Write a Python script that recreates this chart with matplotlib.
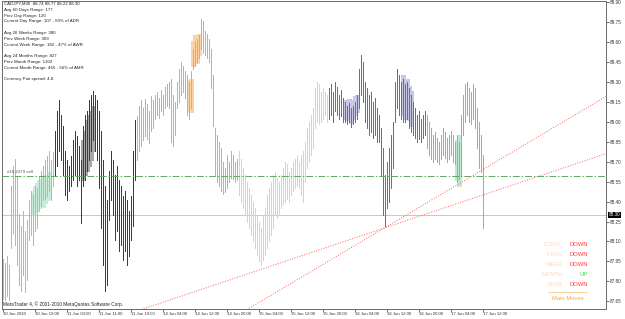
import matplotlib
matplotlib.use("Agg")
import matplotlib.pyplot as plt
from matplotlib.transforms import blended_transform_factory

W, H = 625, 319

# M30 bars, high / low
highs = [
    87.97, 87.94, 87.99, 87.92, 88.52, 88.67, 88.72, 88.59, 88.31, 88.22,
    88.33, 88.18, 88.26, 88.41, 88.48, 88.45, 88.52, 88.50, 88.59, 88.63,
    88.67, 88.71, 88.74, 88.78, 88.71, 88.77, 88.93, 89.08, 89.16, 89.05,
    88.97, 88.78, 88.71, 88.67, 88.74, 88.86, 88.93, 88.89, 88.82, 88.71,
    88.97, 89.05, 89.08, 89.16, 89.20, 89.23, 89.20, 89.16, 89.08, 88.93,
    88.71, 88.52, 88.41, 88.63, 88.78, 88.71, 88.60, 88.67, 88.56, 88.52,
    88.44, 88.48, 88.41, 88.33, 88.44, 88.78, 89.01, 89.04, 89.12, 89.16,
    89.10, 89.17, 89.13, 89.08, 89.19, 89.16, 89.20, 89.22, 89.18, 89.24,
    89.20, 89.26, 89.28, 89.30, 89.32, 89.20, 89.15, 89.30, 89.40, 89.45,
    89.42, 89.38, 89.35, 89.30, 89.38, 89.55, 89.60, 89.62, 89.65, 89.77,
    89.76, 89.68, 89.66, 89.62, 89.55, 89.35, 88.95, 88.90, 88.85, 88.80,
    88.70, 88.65, 88.75, 88.70, 88.78, 88.75, 88.70, 88.72, 88.78, 88.72,
    88.65, 88.60, 88.55, 88.50, 88.45, 88.40, 88.35, 88.30, 88.25, 88.20,
    88.30, 88.35, 88.45, 88.50, 88.55, 88.60, 88.62, 88.58, 88.55, 88.60,
    88.65, 88.70, 88.68, 88.62, 88.65, 88.70, 88.72, 88.75, 88.70, 88.75,
    88.78, 88.85, 88.95, 89.00, 89.05, 89.10, 89.25, 89.30, 89.28, 89.22,
    89.25, 89.22, 89.20, 89.25, 89.28, 89.22, 89.30, 89.26, 89.20, 89.24,
    89.18, 89.15, 89.12, 89.14, 89.10, 89.12, 89.15, 89.20, 89.40, 89.50,
    89.45, 89.30, 89.25, 89.20, 89.22, 89.15, 89.18, 89.10, 89.05, 88.95,
    88.80, 88.60, 88.70, 88.80, 88.90, 89.00, 89.30, 89.40, 89.35, 89.30,
    89.32, 89.28, 89.30, 89.25, 89.20, 89.15, 89.10, 89.05, 89.08, 89.02,
    89.05, 89.08, 89.05, 89.00, 88.95, 88.90, 88.92, 88.88, 88.85, 88.90,
    88.95, 88.92, 88.88, 88.90, 88.93, 88.90, 88.85, 88.90, 88.85, 89.05,
    89.20, 89.28, 89.30, 89.25, 89.22, 89.28, 89.25, 89.10, 89.00, 88.90,
    88.75,
]
lows = [
    87.67, 87.66, 87.69, 87.66, 88.05, 88.16, 88.07, 87.92, 87.77, 87.73,
    87.85, 87.72, 87.81, 88.11, 88.15, 88.07, 88.18, 88.20, 88.33, 88.37,
    88.41, 88.42, 88.44, 88.48, 88.41, 88.52, 88.60, 88.67, 88.78, 88.71,
    88.60, 88.45, 88.41, 88.48, 88.52, 88.56, 88.60, 88.52, 88.56, 88.24,
    88.52, 88.56, 88.63, 88.71, 88.78, 88.86, 88.78, 88.71, 88.50, 88.20,
    87.92, 87.73, 87.77, 88.26, 88.41, 88.30, 88.11, 88.18, 88.03, 88.07,
    87.96, 88.03, 87.92, 87.99, 88.11, 88.22, 88.56, 88.71, 88.78, 88.82,
    88.86, 88.89, 88.87, 88.84, 88.93, 88.95, 89.02, 89.05, 89.03, 89.08,
    89.05, 89.10, 89.12, 89.10, 88.85, 88.82, 88.90, 89.10, 89.15, 89.20,
    89.22, 89.18, 89.05, 89.02, 89.10, 89.40, 89.42, 89.45, 89.48, 89.55,
    89.52, 89.50, 89.48, 89.45, 89.25, 88.97, 88.60, 88.55, 88.52, 88.48,
    88.46, 88.47, 88.50, 88.55, 88.58, 88.57, 88.55, 88.56, 88.45, 88.40,
    88.35, 88.30, 88.25, 88.20, 88.15, 88.10, 88.05, 88.00, 87.95, 87.92,
    87.96, 88.00, 88.05, 88.10, 88.15, 88.20, 88.30, 88.28, 88.30, 88.35,
    88.38, 88.40, 88.42, 88.40, 88.45, 88.48, 88.50, 88.52, 88.50, 88.45,
    88.40, 88.55, 88.65, 88.70, 88.75, 88.80, 88.95, 89.00, 88.98, 89.00,
    89.02, 89.05, 89.00, 89.02, 89.05, 89.00, 89.08, 89.05, 89.02, 89.04,
    89.00, 89.00, 88.98, 89.00, 88.96, 88.98, 89.00, 89.02, 89.10, 89.20,
    89.15, 89.00, 88.95, 88.90, 88.92, 88.88, 88.90, 88.85, 88.85, 88.60,
    88.30, 88.22, 88.35, 88.40, 88.50, 88.65, 89.00, 89.10, 89.05, 89.02,
    89.00, 89.00, 89.02, 88.95, 88.92, 88.90, 88.88, 88.85, 88.87, 88.85,
    88.88, 88.90, 88.80, 88.75, 88.72, 88.70, 88.72, 88.70, 88.68, 88.72,
    88.75, 88.73, 88.70, 88.72, 88.75, 88.70, 88.68, 88.55, 88.57, 88.60,
    88.90, 89.00, 89.05, 89.00, 88.98, 89.02, 88.95, 88.80, 88.65, 88.62,
    88.20,
]

# lighter open/close bodies painted behind some bars
body_bars = [15, 16, 17, 18, 19, 20, 21, 22, 23,
             40, 41, 42, 43, 44, 45,
             93, 94, 95, 96, 97, 98,
             171, 172, 173, 174, 175, 176, 177,
             200, 201, 202, 203, 204,
             227, 228]
body_tops = [88.48, 88.52, 88.54, 88.56, 88.57, 88.59, 88.60, 88.57, 88.62,
             88.86, 88.93, 89.01, 89.05, 89.08, 89.12,
             89.31, 89.32, 89.61, 89.65, 89.62, 89.66,
             89.16, 89.14, 89.17, 89.13, 89.16, 89.19, 89.20,
             89.35, 89.31, 89.32, 89.27, 89.23,
             88.86, 88.90]
body_bottoms = [88.30, 88.32, 88.33, 88.35, 88.37, 88.36, 88.39, 88.41, 88.42,
                88.56, 88.60, 88.63, 88.67, 88.71, 88.78,
                89.08, 89.07, 89.42, 89.46, 89.44, 89.50,
                89.02, 89.01, 89.04, 88.99, 89.02, 89.05, 89.07,
                89.05, 89.02, 89.07, 89.01, 88.97,
                88.56, 88.52]

# bar colour changes (first bar of each run)
seg_starts = [0, 26, 67, 118, 163, 212]
seg_colors = ["#86d3a6", "#3c3c3c", "#f7a54a", "#d2d2da", "#6a68b2", "#66cb94"]
body_colors = ["#c8ecd7", "#a8a8a8", "#fbd3a6", "#e8e8ec", "#c9c7e6", "#c0e9d2"]

tick_bars = list(range(0, 241, 16))
tick_labels = [
    "10 Jun 2010", "10 Jun 19:00", "11 Jun 03:00", "11 Jun 11:00",
    "11 Jun 19:00", "14 Jun 04:00", "14 Jun 12:00", "14 Jun 20:00",
    "15 Jun 04:00", "15 Jun 12:00", "15 Jun 20:00", "16 Jun 04:00",
    "16 Jun 12:00", "16 Jun 20:00", "17 Jun 04:00", "17 Jun 12:00",
]
price_ticks = [89.90, 89.75, 89.60, 89.45, 89.30, 89.15, 89.00, 88.85,
               88.70, 88.55, 88.40, 88.25, 88.10, 87.95, 87.80, 87.65]

bid = 88.30
order_price = 88.595
order_label = "#10.2379 sell"
# trendlines: (bar, price) anchors
trend_a_bars, trend_a_prices = [0, 301.5], [87.24, 88.76]
trend_b_bars, trend_b_prices = [0, 301.5], [86.50, 89.19]

info_lines = [
    "CADJPY,M30  88.74 88.77 88.22 88.30",
    "Avg 60 Days Range: 177",
    "Prev Day Range: 120",
    "Current Day Range: 107 - 60% of ADR",
    "",
    "Avg 26 Weeks Range: 380",
    "Prev Week Range: 309",
    "Current Week Range: 182 - 47% of AWR",
    "",
    "Avg 24 Months Range: 827",
    "Prev Month Range: 1302",
    "Current Month Range: 465 - 56% of AMR",
    "",
    "Currency Pair spread: 4.8",
]
move_names = ["TODAY", "Y-DAY", "WEEK", "MONTH", "YEAR"]
move_dirs = ["DOWN", "DOWN", "DOWN", "UP", "DOWN"]

FONT = "Liberation Sans"


def fpx(x, y):
    """pixel position -> figure fraction"""
    return x / W, 1 - y / H


def seg_of(i):
    return max(j for j, s in enumerate(seg_starts) if s <= i)


fig = plt.figure(figsize=(W / 100, H / 100), dpi=100)
fig.patch.set_facecolor("white")
ax = fig.add_axes([2 / W, 1 - 309 / H, 604 / W, 308 / H])
ax.set_xlim(-0.5, 301.5)
ax.set_ylim(87.5925, 89.9075)

# bodies, then bars on top (no antialiasing: crisp 1px bars like the terminal)
ax.vlines(body_bars, body_bottoms, body_tops,
          colors=[body_colors[seg_of(i)] for i in body_bars], lw=2.2,
          antialiased=False, zorder=1)
ax.vlines(range(len(highs)), lows, highs,
          colors=[seg_colors[seg_of(i)] for i in range(len(highs))],
          lw=0.72, antialiased=False, zorder=2)

# bid line, order line, trendlines
ax.axhline(bid, color="#c8c8c8", lw=0.7, zorder=0)
ax.axhline(order_price, color="#5fa862", lw=0.7, ls=(0, (7, 2, 1.5, 2)), zorder=3)
ax.text(2, order_price + 0.01, order_label, fontsize=3.2, family=FONT,
        color="#555555", va="bottom")
for bx, by in ((trend_a_bars, trend_a_prices), (trend_b_bars, trend_b_prices)):
    ax.plot(bx, by, color="#ff5f5f", lw=0.7, ls=(0, (1, 1.6)), zorder=4)

# axes styling
for side in ("top", "left", "right", "bottom"):
    ax.spines[side].set_color("#6a6a6a")
    ax.spines[side].set_linewidth(0.7)
ax.yaxis.tick_right()
ax.set_yticks(price_ticks)
ax.set_yticklabels([f"{p:.2f}" for p in price_ticks])
ax.tick_params(axis="y", length=2, width=0.5, pad=1, labelsize=3.3,
               colors="#333333")
ax.set_xticks(tick_bars)
ax.set_xticklabels(tick_labels)
ax.tick_params(axis="x", length=2, width=0.5, pad=0.5, labelsize=3.1,
               colors="#333333")
for lab in ax.get_xticklabels() + ax.get_yticklabels():
    lab.set_family(FONT)
for lab in ax.get_xticklabels():
    lab.set_ha("left")

# bid price box
tr = blended_transform_factory(ax.transAxes, ax.transData)
ax.text(1.004, bid, f"{bid:.2f}", transform=tr, fontsize=3.3, family=FONT,
        color="white", va="center", ha="left",
        bbox=dict(boxstyle="square,pad=0.15", fc="black", ec="none"))

# info block
for n, line in enumerate(info_lines):
    fig.text(*fpx(4, 4 + n * 5.8), line, fontsize=3.2, family=FONT,
             color="#222222", va="center")

fig.text(*fpx(3, 304), "MetaTrader 4, \u00a9 2001-2010 MetaQuotes Software Corp.",
         fontsize=3.4, family=FONT, color="#222222", va="center")

# main moves panel
for n, (name, d) in enumerate(zip(move_names, move_dirs)):
    y = 244 + n * 10.2
    fig.text(*fpx(563, y), name, fontsize=4.2, family=FONT, color="#fbd8c0",
             ha="right", va="center")
    fig.text(*fpx(588, y), d, fontsize=4.2, family=FONT,
             color="#ff3b3b" if d == "DOWN" else "#3fe23f", ha="right", va="center")
fig.lines.append(plt.Line2D([548 / W, 588 / W], [1 - 292 / H, 1 - 292 / H],
                            transform=fig.transFigure, color="#f5a54a", lw=0.6,
                            ls=(0, (2, 1.2))))
fig.text(*fpx(568, 298), "Main Moves", fontsize=4.2, family=FONT,
         color="#f5a54a", ha="center", va="center")

fig.savefig("out.png", dpi=100)
